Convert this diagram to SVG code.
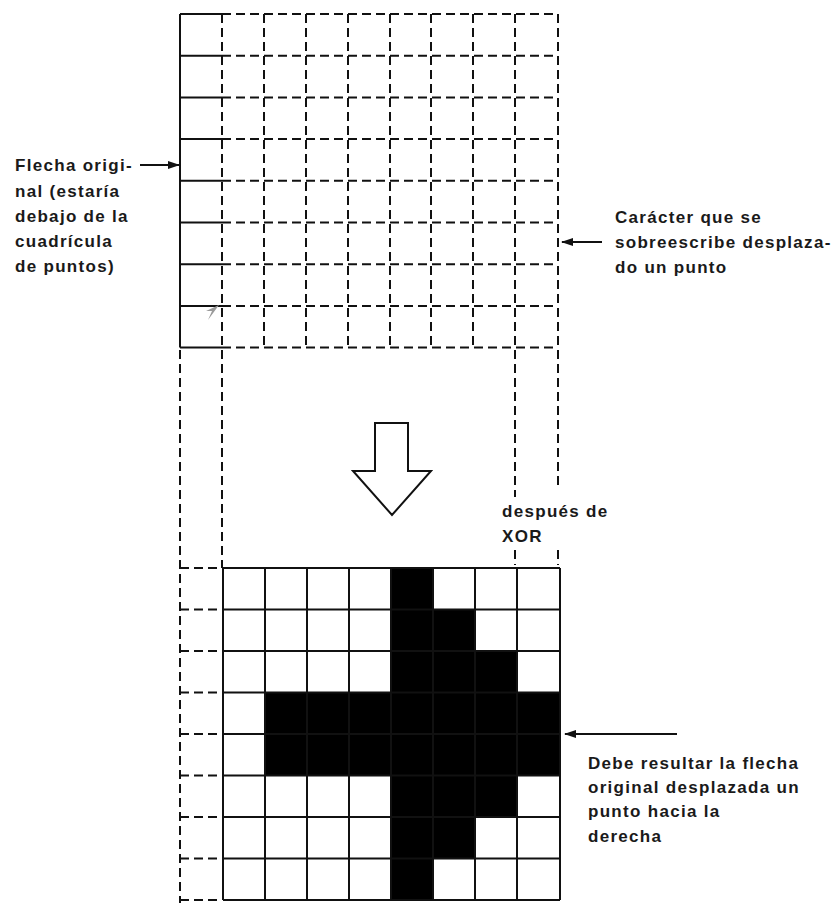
<svg xmlns="http://www.w3.org/2000/svg" width="833" height="903" viewBox="0 0 833 903">
<defs>
<style>
.solid{stroke:#111;stroke-width:2;fill:none}
.dash{stroke:#111;stroke-width:2;fill:none;stroke-dasharray:9 5}
.lbl{font-family:"Liberation Sans",Arial,sans-serif;font-weight:bold;font-size:17px;letter-spacing:1.3px;fill:#1a1a1a}
.conn{stroke:#111;stroke-width:2;fill:none}
</style>
<marker id="ah" viewBox="0 0 12 10" refX="11" refY="5" markerWidth="12" markerHeight="10" markerUnits="userSpaceOnUse" orient="auto">
<path d="M0,1 L12,5 L0,9 Z" fill="#111"/>
</marker>
</defs>
<rect width="833" height="903" fill="#fff"/>

<g id="top-grid">
<path class="solid" d="M180,14 H222 M180,14 V347.6 M180,55.7 H222 M180,97.4 H222 M180,139.1 H222 M180,180.8 H222 M180,222.5 H222 M180,264.2 H222 M180,305.9 H222 M180,347.6 H222"/>
<path class="dash" d="M222,14 H558 M222,55.7 H558 M222,97.4 H558 M222,139.1 H558 M222,180.8 H558 M222,222.5 H558 M222,264.2 H558 M222,305.9 H558 M222,347.6 H558"/>
<path class="dash" d="M264,14 V347.6 M306,14 V347.6 M348,14 V347.6 M390,14 V347.6 M431,14 V347.6 M473,14 V347.6"/>
<polygon points="219,305 208,320 212,311 206,311" fill="#9a9a9a"/>
</g>

<g id="projection-lines">
<path class="dash" d="M180,350 V903 M222,14 V568 M515,14 V497 M515,550 V565 M558,14 V490 M558,550 V565"/>
<path class="dash" d="M180,568 H222 M180,609.5 H222 M180,651 H222 M180,692.5 H222 M180,734 H222 M180,775.5 H222 M180,817 H222 M180,858.5 H222 M180,900 H222"/>
</g>

<g id="down-arrow">
<polygon points="375,423 408,423 408,471 431,471 392,515 353,471 375,471" fill="#fff" stroke="#111" stroke-width="2" stroke-linejoin="miter"/>
</g>

<g id="bottom-grid">
<rect x="223" y="568" width="337" height="332" fill="#fff"/>
<polygon points="391,568 433,568 433,609.5 475,609.5 475,651 517,651 517,692.5 560,692.5 560,775.5 517,775.5 517,817 475,817 475,858.5 433,858.5 433,900 391,900 391,775.5 265,775.5 265,692.5 391,692.5" fill="#000"/>
<path class="solid" d="M223,568 H560 M223,609.5 H560 M223,651 H560 M223,692.5 H560 M223,734 H560 M223,775.5 H560 M223,817 H560 M223,858.5 H560 M223,900 H560 M223,568 V900 M265,568 V900 M307,568 V900 M349,568 V900 M391,568 V900 M433,568 V900 M475,568 V900 M517,568 V900 M560,568 V900"/>
</g>

<g id="connectors">
<line class="conn" x1="140" y1="165" x2="179" y2="165" marker-end="url(#ah)"/>
<line class="conn" x1="602" y1="242" x2="562" y2="242" marker-end="url(#ah)"/>
<line class="conn" x1="677" y1="734" x2="565" y2="734" marker-end="url(#ah)"/>
</g>

<g id="label-original">
<text class="lbl" x="15" y="171">Flecha origi-</text>
<text class="lbl" x="15" y="197">nal (estaría</text>
<text class="lbl" x="15" y="222">debajo de la</text>
<text class="lbl" x="15" y="247">cuadrícula</text>
<text class="lbl" x="15" y="272">de puntos)</text>
</g>

<g id="label-caracter">
<text class="lbl" x="615" y="223">Carácter que se</text>
<text class="lbl" x="615" y="248">sobreescribe desplaza-</text>
<text class="lbl" x="615" y="273">do un punto</text>
</g>

<g id="label-xor">
<text class="lbl" x="502" y="517">después de</text>
<text class="lbl" x="502" y="542">XOR</text>
</g>

<g id="label-resultado">
<text class="lbl" x="588" y="769">Debe resultar la flecha</text>
<text class="lbl" x="588" y="793">original desplazada un</text>
<text class="lbl" x="588" y="817">punto hacia la</text>
<text class="lbl" x="588" y="842">derecha</text>
</g>
</svg>
